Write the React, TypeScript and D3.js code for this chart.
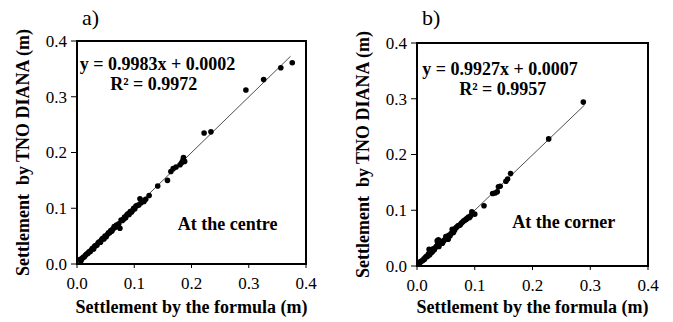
import * as d3 from "d3";
import React from "react";

// axis ticks (same for both panels)
const xTicks = [0.0, 0.1, 0.2, 0.3, 0.4];
const yTicks = [0.0, 0.1, 0.2, 0.3, 0.4];

// a) at the centre
const centreFormula = [
  0.005, 0.007, 0.009, 0.011, 0.013, 0.015, 0.017, 0.019, 0.021, 0.023,
  0.025, 0.027, 0.029, 0.031, 0.033, 0.035, 0.037, 0.039, 0.041, 0.043,
  0.045, 0.047, 0.049, 0.051, 0.053, 0.055, 0.057, 0.059, 0.061, 0.063,
  0.065, 0.067, 0.069, 0.071, 0.073, 0.075, 0.077, 0.079, 0.081, 0.083,
  0.085, 0.087, 0.089, 0.091, 0.093, 0.095, 0.097, 0.099, 0.101, 0.103,
  0.105, 0.108, 0.11, 0.112, 0.114, 0.117, 0.12, 0.126, 0.141, 0.158,
  0.164, 0.168, 0.173, 0.18, 0.183, 0.185, 0.186, 0.188, 0.222, 0.234,
  0.295, 0.326, 0.356, 0.376,
];
const centreTno = [
  0.008, 0.006, 0.01, 0.012, 0.013, 0.016, 0.018, 0.019, 0.022, 0.022,
  0.025, 0.028, 0.027, 0.032, 0.033, 0.034, 0.038, 0.04, 0.039, 0.044,
  0.046, 0.045, 0.05, 0.049, 0.053, 0.056, 0.056, 0.06, 0.059, 0.063,
  0.067, 0.066, 0.07, 0.068, 0.072, 0.064, 0.079, 0.078, 0.08, 0.084,
  0.083, 0.088, 0.09, 0.089, 0.094, 0.093, 0.096, 0.1, 0.099, 0.104,
  0.105, 0.106, 0.117, 0.11, 0.113, 0.112, 0.116, 0.123, 0.14, 0.15,
  0.166, 0.171, 0.174, 0.178, 0.182, 0.186, 0.191, 0.184, 0.235, 0.237,
  0.312, 0.331, 0.352, 0.361,
];

// b) at the corner
const cornerFormula = [
  0.003, 0.005, 0.006, 0.008, 0.01, 0.012, 0.013, 0.015, 0.017, 0.018,
  0.02, 0.021, 0.022, 0.023, 0.025, 0.027, 0.028, 0.03, 0.032, 0.034,
  0.035, 0.036, 0.037, 0.038, 0.04, 0.042, 0.044, 0.046, 0.048, 0.05,
  0.052, 0.054, 0.055, 0.057, 0.059, 0.061, 0.063, 0.065, 0.067, 0.069,
  0.071, 0.073, 0.075, 0.077, 0.079, 0.081, 0.083, 0.085, 0.087, 0.089,
  0.091, 0.093, 0.095, 0.1, 0.116, 0.131, 0.135, 0.139, 0.141, 0.144,
  0.154, 0.157, 0.162, 0.228, 0.288,
];
const cornerTno = [
  0.004, 0.006, 0.008, 0.009, 0.01, 0.013, 0.012, 0.016, 0.018, 0.017,
  0.022, 0.03, 0.02, 0.028, 0.024, 0.026, 0.031, 0.029, 0.033, 0.036,
  0.045, 0.038, 0.047, 0.035, 0.042, 0.044, 0.041, 0.045, 0.047, 0.053,
  0.05, 0.048, 0.055, 0.054, 0.058, 0.066, 0.06, 0.064, 0.068, 0.07,
  0.072, 0.073, 0.074, 0.077, 0.079, 0.081, 0.082, 0.084, 0.085, 0.088,
  0.087, 0.09, 0.097, 0.093, 0.108, 0.13, 0.131, 0.133, 0.142, 0.143,
  0.152, 0.156, 0.166, 0.228, 0.294,
];

const FONT = "'Liberation Serif', 'Times New Roman', serif";

const panels = [
  {
    label: "a)",
    xs: centreFormula,
    ys: centreTno,
    slope: 0.9983,
    icept: 0.0002,
    fitEnd: 0.373,
    eq: "y = 0.9983x + 0.0002",
    r2: "R² = 0.9972",
    note: "At the centre",
    left: 77, right: 306, top: 41, bottom: 264,
    titleX: 82, yTitleX: 29,
    eqPos: [0.005, 0.348], r2Pos: [0.058, 0.312], notePos: [0.176, 0.061],
  },
  {
    label: "b)",
    xs: cornerFormula,
    ys: cornerTno,
    slope: 0.9927,
    icept: 0.0007,
    fitEnd: 0.29,
    eq: "y = 0.9927x + 0.0007",
    r2: "R² = 0.9957",
    note: "At the corner",
    left: 417, right: 648, top: 43, bottom: 266,
    titleX: 422, yTitleX: 369,
    eqPos: [0.009, 0.343], r2Pos: [0.073, 0.307], notePos: [0.165, 0.068],
  },
];

function Panel({ p }) {
  const x = d3.scaleLinear().domain([0, 0.4]).range([p.left, p.right]);
  const y = d3.scaleLinear().domain([0, 0.4]).range([p.bottom, p.top]);
  const fit = d3
    .line<number>()
    .x((d) => x(d))
    .y((d) => y(p.slope * d + p.icept));
  const cx = (p.left + p.right) / 2;
  const cy = (p.top + p.bottom) / 2;
  return (
    <g fontFamily={FONT} fill="#000">
      <text x={p.titleX} y={25} fontSize={22}>{p.label}</text>
      {/* ticks */}
      {xTicks.map((t) => (
        <g key={"x" + t}>
          <line x1={x(t)} x2={x(t)} y1={p.bottom} y2={p.bottom + 4} stroke="#000" strokeWidth={1} />
          <text x={x(t)} y={p.bottom + 25} fontSize={17} textAnchor="middle">{t.toFixed(1)}</text>
        </g>
      ))}
      {yTicks.map((t) => (
        <g key={"y" + t}>
          <line x1={p.left - 6} x2={p.left} y1={y(t)} y2={y(t)} stroke="#000" strokeWidth={1} />
          <text x={p.left - 10} y={y(t)} dy="0.35em" fontSize={17} textAnchor="end">{t.toFixed(1)}</text>
        </g>
      ))}
      {/* fit line */}
      <path d={fit([0, p.fitEnd]) || ""} fill="none" stroke="#000" strokeWidth={0.7} />
      {p.xs.map((v, i) => (
        <circle key={i} cx={x(v)} cy={y(p.ys[i])} r={2.8} fill="#000" />
      ))}
      <rect x={p.left} y={p.top} width={p.right - p.left} height={p.bottom - p.top} fill="none" stroke="#000" strokeWidth={2} />
      <text x={x(p.eqPos[0])} y={y(p.eqPos[1])} fontSize={18} fontWeight="bold">{p.eq}</text>
      <text x={x(p.r2Pos[0])} y={y(p.r2Pos[1])} fontSize={18} fontWeight="bold">{p.r2}</text>
      <text x={x(p.notePos[0])} y={y(p.notePos[1])} fontSize={18} fontWeight="bold">{p.note}</text>
      {/* axis titles */}
      <text x={cx} y={313} fontSize={18} fontWeight="bold" textAnchor="middle">Settlement by the formula (m)</text>
      <text transform={`translate(${p.yTitleX},${cy}) rotate(-90)`} fontSize={18} fontWeight="bold" textAnchor="middle" xmlSpace="preserve">
        {"Settlement  by TNO DIANA (m)"}
      </text>
    </g>
  );
}

export default function App() {
  return (
    <svg width={673} height={322} style={{ position: "absolute", left: 0, top: 0, background: "#fff" }}>
      <rect width={673} height={322} fill="#fff" />
      {panels.map((p) => (
        <Panel key={p.label} p={p} />
      ))}
    </svg>
  );
}
